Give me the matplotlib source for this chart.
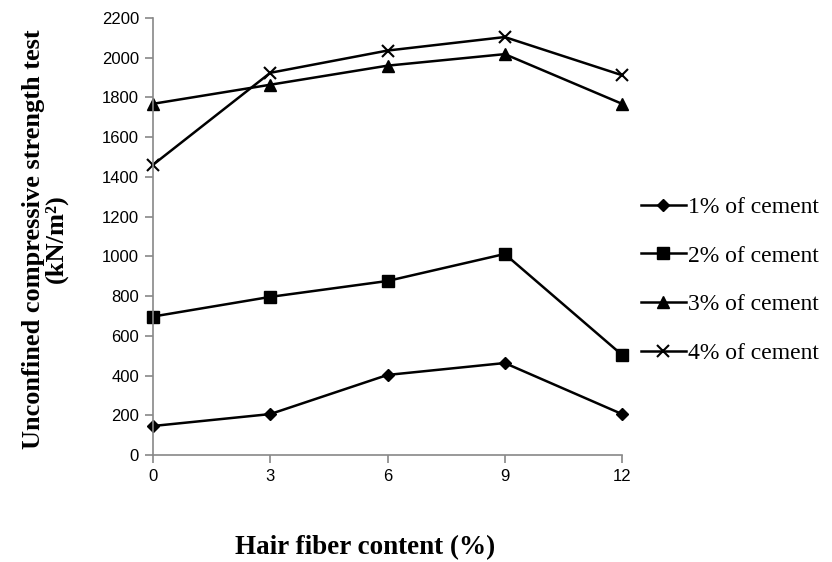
import matplotlib.pyplot as plt

# hair fiber content (%) and UCS values (kN/m2) for each cement dosage
fiber = [0, 3, 6, 9, 12]
cement_1 = [146, 206, 403, 463, 206]
cement_2 = [697, 796, 876, 1012, 504]
cement_3 = [1768, 1864, 1960, 2018, 1768]
cement_4 = [1461, 1924, 2036, 2104, 1912]
series_labels = ['1% of cement', '2% of cement', '3% of cement', '4% of cement']

fig = plt.figure(figsize=(8.32, 5.62), dpi=100)
ax = fig.add_axes([0.1839, 0.1904, 0.5637, 0.7776])

ax.plot(fiber, cement_1, color='black', lw=1.8, marker='D', ms=6, label=series_labels[0], clip_on=False)
ax.plot(fiber, cement_2, color='black', lw=1.8, marker='s', ms=8, label=series_labels[1], clip_on=False)
ax.plot(fiber, cement_3, color='black', lw=1.8, marker='^', ms=8.5, label=series_labels[2], clip_on=False)
ax.plot(fiber, cement_4, color='black', lw=1.8, marker='x', ms=9, mew=1.5, label=series_labels[3], clip_on=False)

ax.set_xlim(0, 12)
ax.set_ylim(0, 2200)
ax.set_xticks(fiber)
ax.set_yticks(range(0, 2201, 200))

for s in ['top', 'right']:
    ax.spines[s].set_visible(False)
for s in ['left', 'bottom']:
    ax.spines[s].set_color('#888888')
    ax.spines[s].set_linewidth(1.2)
ax.tick_params(colors='#888888', length=6, width=1.2, labelcolor='black',
               labelsize=12, pad=4)
for lab in ax.get_xticklabels() + ax.get_yticklabels():
    lab.set_family('Liberation Sans')

# axis titles placed on the figure
fig.text(0.054, 0.575, 'Unconfined compressive strength test\n(kN/m²)',
         family='Liberation Serif', fontweight='bold', fontsize=19,
         rotation=90, ha='center', va='center', linespacing=1.0)
fig.text(0.439, 0.025, 'Hair fiber content (%)', family='Liberation Serif',
         fontweight='bold', fontsize=19.5, ha='center', va='center')

ax.legend(loc='center left', bbox_to_anchor=(0.995, 0.40), frameon=False,
          prop={'family': 'Liberation Serif', 'size': 17},
          handlelength=1.9, handletextpad=0.1, labelspacing=1.15)

fig.savefig('out.png', dpi=100)
